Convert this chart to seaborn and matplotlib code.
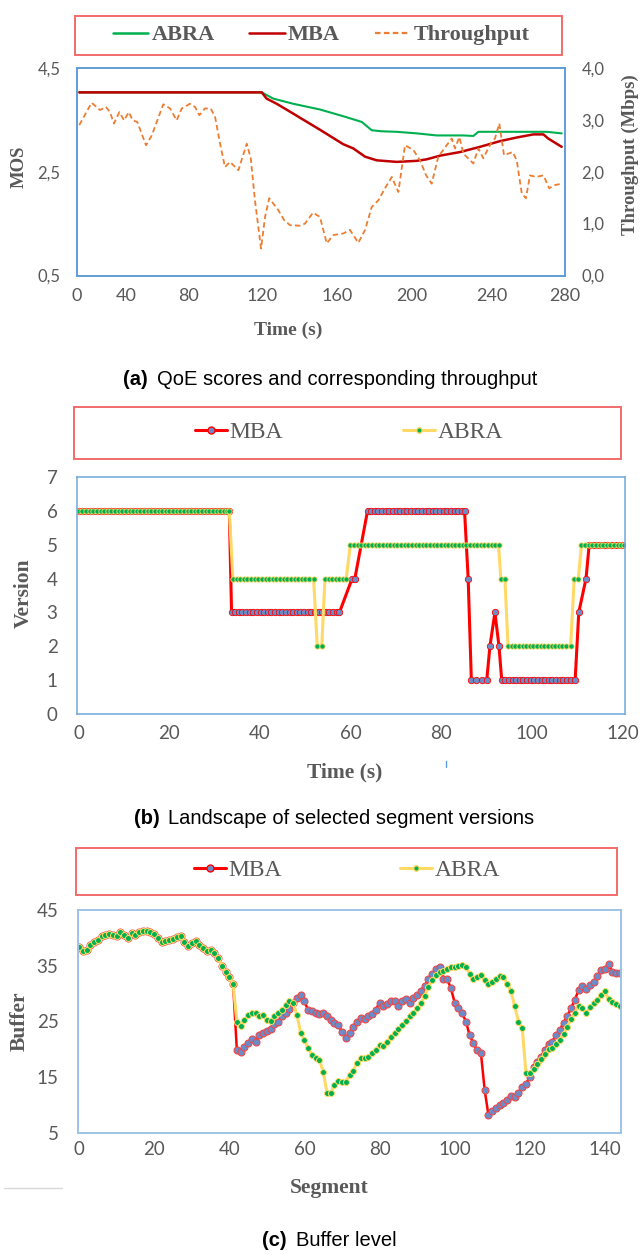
import matplotlib
matplotlib.use("Agg")
import matplotlib.pyplot as plt
import seaborn as sns
from matplotlib.lines import Line2D
from matplotlib.patches import Rectangle
from matplotlib.font_manager import FontProperties

W, H = 642, 1255

# ---------------- (a) QoE scores and throughput ----------------
# x = position on the (category) time axis of the original chart
tp_x = [1.3, 8.4, 13.2, 16.6, 18.9, 21.2, 24.3, 27.0, 29.7, 32.0,
        34.6, 39.6, 42.9, 49.5, 53.4, 57.2, 60.1, 64.8, 67.7, 70.2,
        73.4, 76.7, 79.2, 82.1, 84.9, 87.8, 92.6, 97.4, 99.7, 102.1,
        105.6, 107.9, 110.3, 115.5, 118.8, 122.2, 128.0, 130.8, 135.4, 139.4,
        143.3, 147.1, 152.8, 156.6, 161.4, 165.3, 169.1, 172.9, 176.7, 180.6,
        184.4, 188.2, 193.0, 196.8, 200.3, 203.5, 207.3, 212.1, 215.0, 216.9,
        219.4, 221.7, 227.4, 230.3, 233.1, 238.0, 239.8, 242.3, 245.0, 250.0,
        252.3, 255.2, 257.6, 259.9, 263.4, 267.6, 271.0, 273.7, 278.1]
tp_mbps = [2.90, 3.33, 3.19, 3.25, 3.15, 2.93, 3.15, 2.99, 3.15, 2.99,
           2.96, 2.51, 2.70, 3.30, 3.22, 2.99, 3.22, 3.31, 3.25, 3.09,
           3.22, 3.22, 3.06, 2.54, 2.09, 2.19, 2.03, 2.54, 2.26, 1.45,
           0.52, 1.13, 1.49, 1.26, 1.07, 0.97, 0.96, 1.00, 1.21, 1.13,
           0.62, 0.78, 0.81, 0.88, 0.63, 0.88, 1.32, 1.45, 1.68, 1.90,
           1.61, 2.51, 2.42, 2.22, 1.93, 1.77, 2.29, 2.51, 2.64, 2.45,
           2.67, 2.35, 2.16, 2.45, 2.26, 2.58, 2.64, 2.93, 2.32, 2.38,
           2.22, 1.58, 1.49, 1.93, 1.90, 1.93, 1.68, 1.74, 1.77]

abra_mos_x = [1.3, 106.0, 112.6, 124.1, 139.4, 152.8, 163.4, 169.1, 174.8,
              183.4, 194.9, 206.4, 221.7, 227.4, 230.3, 242.7, 269.5, 278.1]
abra_mos = [4.03, 4.03, 3.91, 3.81, 3.70, 3.57, 3.46, 3.30, 3.28,
            3.27, 3.24, 3.20, 3.20, 3.19, 3.27, 3.27, 3.27, 3.24]

mba_mos_x = [1.3, 106.0, 108.8, 114.6, 124.1, 128.0, 139.4, 152.8, 158.5, 165.3,
             172.0, 183.4, 194.9, 200.7, 208.3, 219.8, 231.2, 242.7, 252.3,
             261.8, 267.6, 270.4, 278.1]
mba_mos = [4.03, 4.03, 3.91, 3.81, 3.62, 3.54, 3.31, 3.03, 2.95, 2.79,
           2.72, 2.69, 2.71, 2.74, 2.81, 2.88, 2.98, 3.09, 3.16,
           3.22, 3.22, 3.14, 2.98]

a_tick_pos = [0, 28, 64, 106, 149, 192, 238, 280]
a_tick_lab = ["0", "40", "80", "120", "160", "200", "240", "280"]
mos_ticks = [0.5, 2.5, 4.5]
mos_lab = ["0,5", "2,5", "4,5"]
tp_ticks = [0, 1, 2, 3, 4]
tp_lab = ["0,0", "1,0", "2,0", "3,0", "4,0"]

# ---------------- (b) selected segment versions ----------------
mba_t = [0.0, 0.8, 1.6, 2.4, 3.2, 4.0, 4.8, 5.6, 6.4, 7.2,
         8.0, 8.8, 9.6, 10.4, 11.2, 12.0, 12.8, 13.6, 14.4, 15.2,
         16.0, 16.8, 17.6, 18.4, 19.2, 20.0, 20.8, 21.6, 22.4, 23.2,
         24.0, 24.8, 25.6, 26.4, 27.2, 28.0, 28.8, 29.6, 30.4, 31.2,
         32.0, 32.6, 33.2,
         33.7, 34.5, 35.3, 36.1, 36.9, 37.7, 38.5, 39.3, 40.1, 40.9,
         41.7, 42.5, 43.3, 44.1, 44.9, 45.7, 46.5, 47.3, 48.1, 48.9,
         49.7, 50.5, 51.3, 52.1, 52.9, 53.7, 54.5, 55.3, 56.1, 56.9,
         57.5,
         60.3, 60.9,
         63.7, 64.5, 65.3, 66.1, 66.9, 67.7, 68.5, 69.3, 70.1, 70.9,
         71.7, 72.5, 73.3, 74.1, 74.9, 75.7, 76.5, 77.3, 78.1, 78.9,
         79.7, 80.5, 81.3, 82.1, 82.9, 83.7, 84.5, 85.1,
         85.9,
         86.6, 87.7, 88.9, 90.0,
         90.7, 91.8, 92.7,
         93.3, 94.1, 94.9, 95.7, 96.5, 97.3, 98.1, 98.9, 99.7, 100.5,
         101.3, 102.1, 102.9, 103.7, 104.5, 105.3, 106.1, 106.9, 107.7, 108.5,
         109.5,
         110.3, 111.9,
         112.6, 113.4, 114.2, 115.0, 115.8, 116.6, 117.4, 118.2, 119.0, 119.8]
mba_ver = [6, 6, 6, 6, 6, 6, 6, 6, 6, 6,
           6, 6, 6, 6, 6, 6, 6, 6, 6, 6,
           6, 6, 6, 6, 6, 6, 6, 6, 6, 6,
           6, 6, 6, 6, 6, 6, 6, 6, 6, 6,
           6, 6, 6,
           3, 3, 3, 3, 3, 3, 3, 3, 3, 3,
           3, 3, 3, 3, 3, 3, 3, 3, 3, 3,
           3, 3, 3, 3, 3, 3, 3, 3, 3, 3,
           3,
           4, 4,
           6, 6, 6, 6, 6, 6, 6, 6, 6, 6,
           6, 6, 6, 6, 6, 6, 6, 6, 6, 6,
           6, 6, 6, 6, 6, 6, 6, 6,
           4,
           1, 1, 1, 1,
           2, 3, 2,
           1, 1, 1, 1, 1, 1, 1, 1, 1, 1,
           1, 1, 1, 1, 1, 1, 1, 1, 1, 1,
           1,
           3, 4,
           5, 5, 5, 5, 5, 5, 5, 5, 5, 5]

abra_t = [0.0, 0.8, 1.6, 2.4, 3.2, 4.0, 4.8, 5.6, 6.4, 7.2,
          8.0, 8.8, 9.6, 10.4, 11.2, 12.0, 12.8, 13.6, 14.4, 15.2,
          16.0, 16.8, 17.6, 18.4, 19.2, 20.0, 20.8, 21.6, 22.4, 23.2,
          24.0, 24.8, 25.6, 26.4, 27.2, 28.0, 28.8, 29.6, 30.4, 31.2,
          32.0, 32.6, 33.2,
          34.0, 34.8, 35.6, 36.4, 37.2, 38.0, 38.8, 39.6, 40.4, 41.2,
          42.0, 42.8, 43.6, 44.4, 45.2, 46.0, 46.8, 47.6, 48.4, 49.2,
          50.0, 50.8, 51.8,
          52.6, 53.6,
          54.3, 55.1, 55.9, 56.7, 57.5, 58.3, 59.0,
          59.9, 60.7, 61.5, 62.3, 63.1, 63.9, 64.7, 65.5, 66.3, 67.1,
          67.9, 68.7, 69.5, 70.3, 71.1, 71.9, 72.7, 73.5, 74.3, 75.1,
          75.9, 76.7, 77.5, 78.3, 79.1, 79.9, 80.7, 81.5, 82.3, 83.1,
          83.9, 84.7, 85.5, 86.3, 87.1, 87.9, 88.7, 89.5, 90.3, 91.1,
          91.9, 92.6,
          93.1, 94.0,
          94.7, 95.5, 96.3, 97.1, 97.9, 98.7, 99.5, 100.3, 101.1, 101.9,
          102.7, 103.5, 104.3, 105.1, 105.9, 106.7, 107.5, 108.5,
          109.3, 110.2,
          110.9, 111.7, 112.5, 113.3, 114.1, 114.9, 115.7, 116.5, 117.3, 118.1,
          118.9, 119.6, 120.2]
abra_ver = [6, 6, 6, 6, 6, 6, 6, 6, 6, 6,
            6, 6, 6, 6, 6, 6, 6, 6, 6, 6,
            6, 6, 6, 6, 6, 6, 6, 6, 6, 6,
            6, 6, 6, 6, 6, 6, 6, 6, 6, 6,
            6, 6, 6,
            4, 4, 4, 4, 4, 4, 4, 4, 4, 4,
            4, 4, 4, 4, 4, 4, 4, 4, 4, 4,
            4, 4, 4,
            2, 2,
            4, 4, 4, 4, 4, 4, 4,
            5, 5, 5, 5, 5, 5, 5, 5, 5, 5,
            5, 5, 5, 5, 5, 5, 5, 5, 5, 5,
            5, 5, 5, 5, 5, 5, 5, 5, 5, 5,
            5, 5, 5, 5, 5, 5, 5, 5, 5, 5,
            5, 5,
            4, 4,
            2, 2, 2, 2, 2, 2, 2, 2, 2, 2,
            2, 2, 2, 2, 2, 2, 2, 2,
            4, 4,
            5, 5, 5, 5, 5, 5, 5, 5, 5, 5,
            5, 5, 5]

# ---------------- (c) buffer level per segment ----------------
segment = list(range(145))
mba_buf = [38.3, 37.7, 37.9, 38.8, 39.3, 39.7, 40.3, 40.6, 40.7, 40.5,
           40.4, 41.0, 40.5, 39.9, 40.8, 40.5, 41.0, 41.2, 41.3, 41.0,
           40.7, 39.9, 39.3, 39.5, 39.6, 39.8, 40.1, 40.3, 39.3, 38.5,
           39.0, 39.5, 38.8, 38.2, 37.6, 37.8, 37.2, 36.4, 35.0, 33.8,
           33.0, 31.8, 19.9, 19.6, 20.4, 21.2, 21.8, 21.4, 22.5, 22.9,
           23.3, 23.6, 24.6, 25.0, 26.0, 26.6, 27.3, 28.4, 29.2, 29.8,
           28.6, 27.0, 26.8, 26.6, 26.3, 26.5, 25.9, 25.2, 24.7, 24.3,
           23.2, 22.0, 23.0, 24.0, 25.0, 25.7, 25.4, 26.0, 26.3, 27.1,
           28.4, 27.7, 28.1, 28.6, 28.7, 27.8, 28.6, 29.0, 28.4, 29.3,
           29.8, 30.5, 31.4, 32.6, 33.5, 34.4, 34.7, 32.7, 32.6, 31.0,
           28.4, 27.4, 26.5, 25.0, 22.5, 21.1, 19.8, 19.3, 12.7, 8.2,
           9.0, 9.4, 10.0, 10.4, 11.0, 11.6, 11.4, 12.2, 13.3, 13.8,
           15.1, 16.9, 17.8, 18.7, 19.9, 21.0, 21.4, 22.6, 23.5, 24.8,
           26.0, 27.4, 28.9, 30.6, 31.4, 30.9, 31.5, 32.0, 33.2, 34.2,
           34.5, 35.3, 33.8, 33.7, 33.7]
abra_buf = [38.3, 37.7, 37.9, 38.8, 39.3, 39.7, 40.3, 40.6, 40.7, 40.5,
            40.4, 41.0, 40.5, 39.9, 40.8, 40.5, 41.0, 41.2, 41.3, 41.0,
            40.7, 39.9, 39.3, 39.5, 39.6, 39.8, 40.1, 40.3, 39.3, 38.5,
            39.0, 39.5, 38.8, 38.2, 37.6, 37.8, 37.2, 36.4, 35.0, 33.8,
            33.0, 31.8, 25.0, 24.2, 25.3, 26.2, 26.6, 26.5, 26.0, 26.2,
            25.3, 25.1, 25.9, 26.5, 27.1, 28.0, 28.6, 28.4, 26.2, 22.9,
            21.7, 20.2, 19.0, 18.4, 18.1, 16.0, 12.2, 12.2, 13.6, 14.4,
            14.2, 14.2, 15.4, 16.2, 17.6, 18.5, 18.5, 18.7, 19.3, 19.9,
            20.8, 20.6, 21.4, 22.3, 22.9, 23.6, 24.4, 25.1, 25.9, 26.6,
            27.4, 28.3, 29.5, 31.2, 32.4, 33.3, 33.9, 34.1, 34.5, 34.7,
            34.8, 34.9, 35.1, 34.7, 33.6, 32.6, 32.9, 33.3, 32.4, 31.8,
            32.1, 32.6, 33.2, 33.0, 31.8, 30.5, 27.7, 25.0, 23.8, 15.7,
            15.7, 16.4, 17.4, 18.2, 19.2, 20.0, 20.2, 21.0, 21.7, 22.8,
            24.1, 25.4, 26.6, 27.7, 27.4, 26.5, 27.6, 28.3, 28.9, 29.8,
            30.4, 29.0, 28.5, 28.2, 27.8]

# colours
GREEN = "#00b050"
DARK_RED = "#c00000"
ORANGE = "#ed7d31"
RED = "#ff0000"
BLUE_MARK = "#6a8cc8"
YELLOW = "#ffd966"
GRAY = "#595959"
BOX_RED = "#f26b6b"

SERIF = "Liberation Serif"
CAP_FONT = ["Liberation Sans", "DejaVu Sans"]


def fx(x):
    return x / W


def fy(y):
    return 1 - y / H


def px_box(x0, y0, x1, y1):
    return [fx(x0), fy(y1), (x1 - x0) / W, (y1 - y0) / H]


def style_axes(ax, spine_color, lw=1.1):
    for sp in ax.spines.values():
        sp.set_visible(True)
        sp.set_color(spine_color)
        sp.set_linewidth(lw)
    ax.grid(False)
    ax.set_xlabel("")
    ax.set_ylabel("")
    if ax.get_legend() is not None:
        ax.get_legend().remove()


def legend_frame(fig, x0, y0, x1, y1):
    fig.add_artist(Rectangle((fx(x0), fy(y1)), (x1 - x0) / W, (y1 - y0) / H,
                             transform=fig.transFigure, fill=False,
                             edgecolor=BOX_RED, linewidth=1.4))


def axis_label(fig, x, y, text, size, rotation=0):
    fig.text(fx(x), fy(y), text, ha="center", va="center", rotation=rotation,
             family=SERIF, weight="bold", size=size, color=GRAY)


def caption(fig, y, x_tag_end, x_text, tag, text):
    fig.text(fx(x_tag_end), fy(y), tag, ha="right", va="center",
             family=CAP_FONT, weight="bold", size=14.5, color="black")
    fig.text(fx(x_text), fy(y), text, ha="left", va="center",
             family=CAP_FONT, size=14.5, color="black")


def plot_qoe(fig):
    ax = fig.add_axes(px_box(77, 68, 565, 275.5))
    sns.lineplot(x=abra_mos_x, y=abra_mos, ax=ax, color=GREEN, lw=1.5,
                 estimator=None, sort=False)
    sns.lineplot(x=mba_mos_x, y=mba_mos, ax=ax, color=DARK_RED, lw=1.8,
                 estimator=None, sort=False)
    ax.set_xlim(0, 280)
    ax.set_ylim(0.5, 4.5)
    ax.set_xticks(a_tick_pos, labels=a_tick_lab)
    ax.set_yticks(mos_ticks, labels=mos_lab)
    ax.tick_params(axis="both", length=0, labelsize=12, labelcolor=GRAY)
    ax.tick_params(axis="x", pad=9, labelsize=13)
    ax.tick_params(axis="y", pad=12)

    ax2 = ax.twinx()
    sns.lineplot(x=tp_x, y=tp_mbps, ax=ax2, color=ORANGE, lw=1.3,
                 linestyle=(0, (3, 1.8)), estimator=None, sort=False)
    ax2.set_ylim(0, 4)
    ax2.set_yticks(tp_ticks, labels=tp_lab)
    ax2.tick_params(axis="y", length=0, labelsize=12, labelcolor=GRAY, pad=12)
    style_axes(ax, "#5b9bd5")
    style_axes(ax2, "#5b9bd5")

    axis_label(fig, 19, 167, "MOS", 13.5, rotation=90)
    axis_label(fig, 630, 155, "Throughput (Mbps)", 13.5, rotation=90)
    axis_label(fig, 288, 330, "Time (s)", 14)

    legend_frame(fig, 75, 16, 562, 55)
    handles = [Line2D([], [], color=GREEN, lw=1.8),
               Line2D([], [], color=DARK_RED, lw=1.8),
               Line2D([], [], color=ORANGE, lw=1.6, ls=(0, (2.5, 1.5)))]
    fig.legend(handles, ["ABRA", "MBA", "Throughput"], loc="center",
               bbox_to_anchor=(fx(321), fy(35)), bbox_transform=fig.transFigure,
               ncol=3, frameon=False, labelcolor=GRAY,
               prop=FontProperties(family=SERIF, weight="bold", size=16),
               handlelength=1.6, handletextpad=0.15, columnspacing=1.55)
    caption(fig, 380, 148, 157, "(a)", "QoE scores and corresponding throughput")


def plot_versions(fig):
    ax = fig.add_axes(px_box(77, 477, 625, 714))
    sns.lineplot(x=mba_t, y=mba_ver, ax=ax, color=RED, lw=2.2, marker="o",
                 markersize=4.6, markerfacecolor=BLUE_MARK, markeredgecolor=RED,
                 markeredgewidth=0.6, estimator=None, sort=False)
    sns.lineplot(x=abra_t, y=abra_ver, ax=ax, color=YELLOW, lw=2.2, marker="o",
                 markersize=3.8, markerfacecolor=GREEN, markeredgecolor=YELLOW,
                 markeredgewidth=0.6, estimator=None, sort=False)
    ax.set_xlim(-0.4, 120.5)
    ax.set_ylim(0, 7)
    ax.set_xticks([0, 20, 40, 60, 80, 100, 120])
    ax.set_yticks(range(8))
    ax.tick_params(axis="both", length=0, labelsize=13.5, labelcolor=GRAY)
    ax.tick_params(axis="x", pad=8)
    ax.tick_params(axis="y", pad=14)
    style_axes(ax, "#6fa8dc")

    axis_label(fig, 24, 593, "Version", 15.5, rotation=90)
    axis_label(fig, 345, 772, "Time (s)", 15.5)

    legend_frame(fig, 74, 407, 621, 459)
    handles = [Line2D([], [], color=RED, lw=2.2, marker="o", markersize=5,
                      markerfacecolor=BLUE_MARK, markeredgecolor=RED),
               Line2D([], [], color=YELLOW, lw=2.2, marker="o", markersize=4,
                      markerfacecolor=GREEN, markeredgecolor=YELLOW)]
    fig.legend(handles, ["MBA", "ABRA"], loc="center",
               bbox_to_anchor=(fx(349), fy(432)), bbox_transform=fig.transFigure,
               ncol=2, frameon=False, labelcolor=GRAY,
               prop=FontProperties(family=SERIF, size=17),
               handlelength=1.35, handletextpad=0.1, columnspacing=5.1)
    # stray mark under the axis in the original
    fig.add_artist(Line2D([fx(446), fx(446)], [fy(761), fy(767)],
                          transform=fig.transFigure, color="#5b9bd5", lw=1))
    caption(fig, 818, 160, 168, "(b)", "Landscape of selected segment versions")


def plot_buffer(fig):
    ax = fig.add_axes(px_box(78, 910, 621, 1133))
    sns.lineplot(x=segment, y=mba_buf, ax=ax, color=RED, lw=1.8, marker="o",
                 markersize=5.0, markerfacecolor=BLUE_MARK, markeredgecolor="#f04848",
                 markeredgewidth=0.8, estimator=None, sort=False)
    sns.lineplot(x=segment, y=abra_buf, ax=ax, color=YELLOW, lw=2.2, marker="o",
                 markersize=4.3, markerfacecolor=GREEN, markeredgecolor=YELLOW,
                 markeredgewidth=0.7, estimator=None, sort=False)
    ax.set_xlim(-0.3, 144.3)
    ax.set_ylim(5, 45)
    ax.set_xticks([0, 20, 40, 60, 80, 100, 120, 140])
    ax.set_yticks([5, 15, 25, 35, 45])
    ax.tick_params(axis="both", length=0, labelsize=13.5, labelcolor=GRAY)
    ax.tick_params(axis="x", pad=6)
    ax.tick_params(axis="y", pad=14)
    style_axes(ax, "#9dc3e6", lw=1.4)

    axis_label(fig, 20, 1021, "Buffer", 15.5, rotation=90)
    axis_label(fig, 329, 1188, "Segment", 15.5)

    legend_frame(fig, 76, 848, 617, 895)
    handles = [Line2D([], [], color=RED, lw=2.2, marker="o", markersize=5,
                      markerfacecolor=BLUE_MARK, markeredgecolor=RED),
               Line2D([], [], color=YELLOW, lw=2.2, marker="o", markersize=4,
                      markerfacecolor=GREEN, markeredgecolor=YELLOW)]
    fig.legend(handles, ["MBA", "ABRA"], loc="center",
               bbox_to_anchor=(fx(347), fy(870)), bbox_transform=fig.transFigure,
               ncol=2, frameon=False, labelcolor=GRAY,
               prop=FontProperties(family=SERIF, size=17),
               handlelength=1.35, handletextpad=0.1, columnspacing=5.0)
    # light rule left over at the bottom-left of the original
    fig.add_artist(Line2D([fx(4), fx(62)], [fy(1188), fy(1188)],
                          transform=fig.transFigure, color="#d9d9d9", lw=1))
    caption(fig, 1240, 287, 296, "(c)", "Buffer level")


def main():
    sns.set_style("white")
    plt.rcParams["font.family"] = ["Lato", "DejaVu Sans"]

    fig = plt.figure(figsize=(W / 100, H / 100), dpi=100)
    plot_qoe(fig)
    plot_versions(fig)
    plot_buffer(fig)
    fig.savefig("out.png", dpi=100)
    print("saved out.png")


if __name__ == "__main__":
    main()
